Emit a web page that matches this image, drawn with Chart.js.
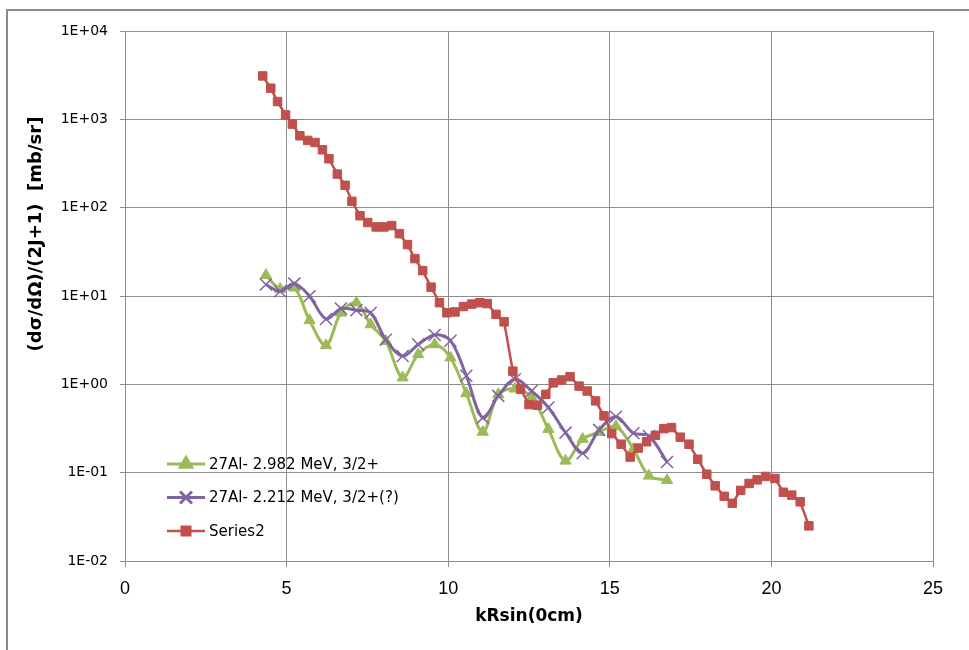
<!DOCTYPE html>
<html>
<head>
<meta charset="utf-8">
<title>Angular distribution</title>
<script src="https://cdn.jsdelivr.net/npm/chart.js@4.4.1/dist/chart.umd.min.js"></script>
<style>
  html, body { margin: 0; padding: 0; background: #fff; }
  #wrap { width: 969px; height: 650px; }
</style>
</head>
<body>
<div id="wrap"><canvas id="chart" width="969" height="650"></canvas></div>
<script>
// Data

const seriesNames = ["27Al- 2.982 MeV, 3/2+", "27Al- 2.212 MeV, 3/2+(?)", "Series2"];

// shared x for the two 27Al series
const xAl = [4.36, 4.80, 5.24, 5.71, 6.22, 6.68, 7.16, 7.60, 8.07, 8.59, 9.07, 9.58, 10.07,
  10.56, 11.07, 11.55, 12.06, 12.58, 13.10, 13.63, 14.16, 14.67, 15.19, 15.73, 16.21, 16.77];

const yAl2982 = [17.2, 12.0, 12.4, 5.3, 2.76, 6.45, 8.4, 4.76, 3.08, 1.19, 2.18, 2.83, 2.0,
  0.79, 0.289, 0.77, 0.89, 0.71, 0.31, 0.136, 0.24, 0.287, 0.335, 0.185, 0.092, 0.082];

const yAl2212 = [13.5, 11.3, 13.8, 9.95, 5.5, 7.2, 6.9, 6.45, 3.2, 2.09, 2.83, 3.62, 3.12,
  1.25, 0.42, 0.74, 1.14, 0.84, 0.546, 0.284, 0.166, 0.305, 0.43, 0.28, 0.26, 0.132];

const xSeries2 = [4.26, 4.51, 4.72, 4.97, 5.18, 5.41, 5.65, 5.88, 6.11, 6.31, 6.57, 6.81, 7.02,
  7.27, 7.51, 7.77, 8.01, 8.25, 8.49, 8.74, 8.97, 9.21, 9.47, 9.73, 9.96, 10.21, 10.47, 10.73,
  10.98, 11.21, 11.48, 11.73, 12.0, 12.24, 12.5, 12.76, 13.02, 13.25, 13.51, 13.77, 14.05, 14.3,
  14.56, 14.82, 15.06, 15.35, 15.63, 15.88, 16.14, 16.41, 16.67, 16.91, 17.18, 17.45, 17.72, 18.0,
  18.26, 18.54, 18.79, 19.05, 19.31, 19.56, 19.82, 20.11, 20.37, 20.63, 20.89, 21.16];

const ySeries2 = [3100, 2250, 1590, 1120, 883, 652, 577, 547, 452, 358, 240, 179, 118,
  81, 68, 60.5, 60.5, 62.7, 50.8, 38.2, 26.5, 19.4, 12.6, 8.4, 6.46, 6.6, 7.6, 8.1,
  8.4, 8.2, 6.2, 5.1, 1.41, 0.88, 0.59, 0.58, 0.77, 1.04, 1.12, 1.22, 0.955, 0.84,
  0.65, 0.44, 0.277, 0.21, 0.15, 0.19, 0.224, 0.265, 0.315, 0.324, 0.252, 0.21, 0.142, 0.096,
  0.071, 0.054, 0.045, 0.063, 0.0755, 0.083, 0.0906, 0.086, 0.060, 0.0557, 0.0468, 0.025];

// axis ticks
const yTickValues = [0.01, 0.1, 1, 10, 100, 1000, 10000];
const yTickLabels = ["1E-02", "1E-01", "1E+00", "1E+01", "1E+02", "1E+03", "1E+04"];
const xTickValues = [0, 5, 10, 15, 20, 25];

const xTitle = "kRsin(0cm)";
const yTitle = "(d\u03c3/d\u03a9)/(2J+1)  [mb/sr]";

// Helpers

function toPoints(xs, ys) {
  return xs.map((x, i) => ({ x: x, y: ys[i] }));
}

const GRID = "#8c8c8c";
const GREEN = "#9bbb59";
const PURPLE = "#8064a2";
const RED = "#c0504d";

// frame, y title and in-plot legend
const extrasPlugin = {
  id: "extras",
  beforeDraw(chart) {
    const ctx = chart.ctx;
    ctx.save();
    ctx.fillStyle = "#fff";
    ctx.fillRect(0, 0, chart.width, chart.height);
    ctx.strokeStyle = "#8a8a8a";
    ctx.lineWidth = 2;
    ctx.strokeRect(7, 10, 1000, 1000);
    ctx.restore();
  },
  afterDraw(chart) {
    const ctx = chart.ctx;
    ctx.save();
    // y axis title
    ctx.translate(36, 234);
    ctx.rotate(-Math.PI / 2);
    ctx.font = "bold 18px 'DejaVu Sans'";
    ctx.fillStyle = "#000";
    ctx.textAlign = "center";
    ctx.textBaseline = "middle";
    ctx.fillText(yTitle, 0, 0);
    ctx.restore();

    // legend
    const rows = [464, 497.5, 531];
    chart.data.datasets.forEach((ds, i) => {
      const y = rows[i];
      ctx.save();
      ctx.strokeStyle = ds.borderColor;
      ctx.lineWidth = ds.borderWidth;
      ctx.beginPath();
      ctx.moveTo(167, y);
      ctx.lineTo(205, y);
      ctx.stroke();
      ctx.fillStyle = ds.pointBackgroundColor;
      ctx.strokeStyle = ds.pointBorderColor;
      Chart.helpers.drawPoint(ctx, {
        pointStyle: ds.pointStyle,
        radius: ds.pointRadius,
        rotation: 0,
        borderWidth: ds.pointBorderWidth
      }, 186, y);
      ctx.fillStyle = "#000";
      ctx.font = "15px 'DejaVu Sans'";
      ctx.textAlign = "left";
      ctx.textBaseline = "middle";
      ctx.fillText(seriesNames[i], 209, y + 1);
      ctx.restore();
    });
  }
};

new Chart(document.getElementById("chart"), {
  type: "line",
  data: {
    datasets: [
      {
        label: seriesNames[0],
        data: toPoints(xAl, yAl2982),
        borderColor: GREEN,
        borderWidth: 3,
        tension: 0.35,
        pointStyle: "triangle",
        pointRadius: 6.5,
        pointBackgroundColor: GREEN,
        pointBorderColor: GREEN,
        pointBorderWidth: 1,
        order: 3
      },
      {
        label: seriesNames[1],
        data: toPoints(xAl, yAl2212),
        borderColor: PURPLE,
        borderWidth: 3,
        tension: 0.35,
        pointStyle: "crossRot",
        pointRadius: 8.5,
        pointBackgroundColor: PURPLE,
        pointBorderColor: PURPLE,
        pointBorderWidth: 1.5,
        order: 2
      },
      {
        label: seriesNames[2],
        data: toPoints(xSeries2, ySeries2),
        borderColor: RED,
        borderWidth: 2.5,
        tension: 0,
        pointStyle: "rect",
        pointRadius: 6,
        pointBackgroundColor: RED,
        pointBorderColor: RED,
        pointBorderWidth: 1,
        order: 1
      }
    ]
  },
  options: {
    responsive: false,
    devicePixelRatio: 1,
    animation: false,
    layout: { padding: { left: 0, top: 31, right: 36, bottom: 0 } },
    plugins: {
      legend: { display: false },
      tooltip: { enabled: false }
    },
    scales: {
      x: {
        type: "linear",
        min: 0,
        max: 25,
        afterBuildTicks: function (scale) {
          scale.ticks = xTickValues.map((v) => ({ value: v }));
        },
        afterFit: function (scale) {
          scale.height = 89;
        },
        grid: { color: GRID, lineWidth: 1, tickLength: 6, tickColor: GRID },
        border: { color: GRID, width: 1 },
        ticks: {
          color: "#000",
          padding: 11,
          maxRotation: 0,
          font: { family: "'Liberation Sans'", size: 18 }
        },
        title: {
          display: true,
          text: xTitle,
          color: "#000",
          font: { family: "'DejaVu Sans'", size: 17, weight: "bold" },
          padding: { top: 0, bottom: 23 }
        }
      },
      y: {
        type: "logarithmic",
        min: 0.01,
        max: 10000,
        afterBuildTicks: function (scale) {
          scale.ticks = yTickValues.map((v) => ({ value: v }));
        },
        afterFit: function (scale) {
          scale.width = 125;
        },
        grid: { color: GRID, lineWidth: 1, tickLength: 5, tickColor: GRID },
        border: { color: GRID, width: 1 },
        ticks: {
          color: "#000",
          padding: 12,
          font: { family: "'DejaVu Sans'", size: 14 },
          callback: function (value, index) {
            return yTickLabels[index];
          }
        }
      }
    }
  },
  plugins: [extrasPlugin]
});
</script>
</body>
</html>
